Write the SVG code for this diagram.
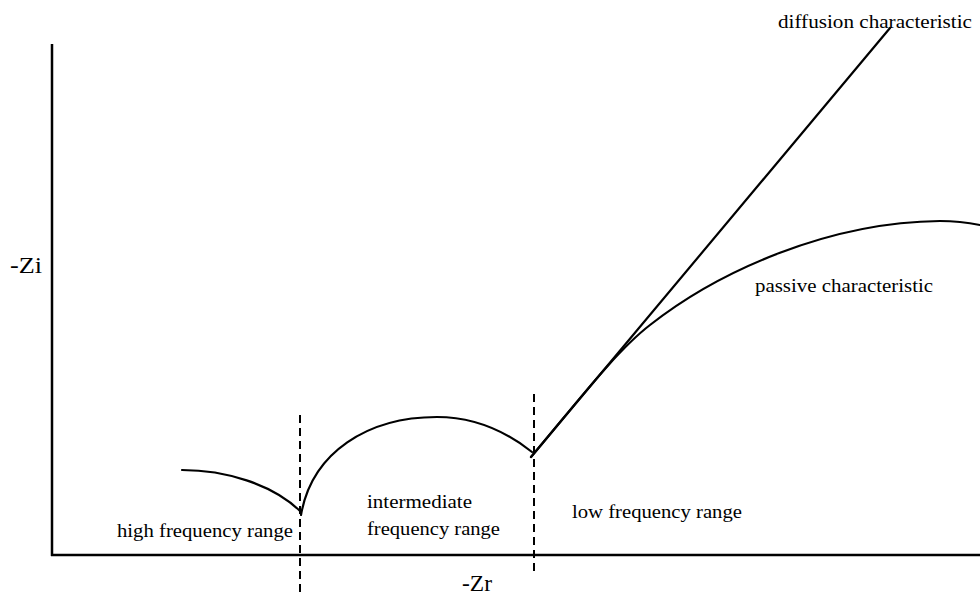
<svg xmlns="http://www.w3.org/2000/svg" width="980" height="597" viewBox="0 0 980 597">
<style>
.ax{stroke:#000;stroke-width:2.5;fill:none}
.cv{stroke:#000;stroke-width:2.2;fill:none;stroke-linecap:round}
.dash{stroke:#000;stroke-width:2;stroke-dasharray:8 5;fill:none}
.t{font-family:"Liberation Serif","Times New Roman",serif;font-size:18px;fill:#000}
.ax-t{font-family:"Liberation Serif","Times New Roman",serif;font-size:24px;fill:#000}
</style>
<rect width="980" height="597" fill="#fff"/>
<g id="axes">
<line class="ax" x1="52" y1="44" x2="52" y2="556"/>
<line class="ax" x1="51" y1="555" x2="980" y2="555"/>
<text class="ax-t" x="10" y="273" textLength="32" lengthAdjust="spacingAndGlyphs">-Zi</text>
<text class="ax-t" x="462" y="591" textLength="30" lengthAdjust="spacingAndGlyphs">-Zr</text>
</g>
<g id="dividers">
<line class="dash" x1="300" y1="415" x2="300" y2="592"/>
<line class="dash" x1="534" y1="394" x2="534" y2="572"/>
</g>
<g id="curves">
<path id="high-arc" class="cv" d="M182,470 C225,470 272,484 300,511"/>
<path id="mid-arc" class="cv" d="M301,515 C312,452 368,417 437,417 C478,417 508,433 532,452"/>
<path id="diffusion" class="cv" d="M531,457 L890,28"/>
<path id="passive" class="cv" d="M531,457 C575,405 615,352 650,325 C720,270 830,222 940,221 C958,221 970,223 980,225"/>
</g>
<g id="labels">
<text class="t" x="778" y="28" textLength="194" lengthAdjust="spacingAndGlyphs">diffusion characteristic</text>
<text class="t" x="755" y="292" textLength="178" lengthAdjust="spacingAndGlyphs">passive characteristic</text>
<text class="t" x="117" y="537" textLength="176" lengthAdjust="spacingAndGlyphs">high frequency range</text>
<text class="t" x="367" y="508" textLength="105" lengthAdjust="spacingAndGlyphs">intermediate</text>
<text class="t" x="367" y="535" textLength="133" lengthAdjust="spacingAndGlyphs">frequency range</text>
<text class="t" x="572" y="518" textLength="170" lengthAdjust="spacingAndGlyphs">low frequency range</text>
</g>
</svg>
